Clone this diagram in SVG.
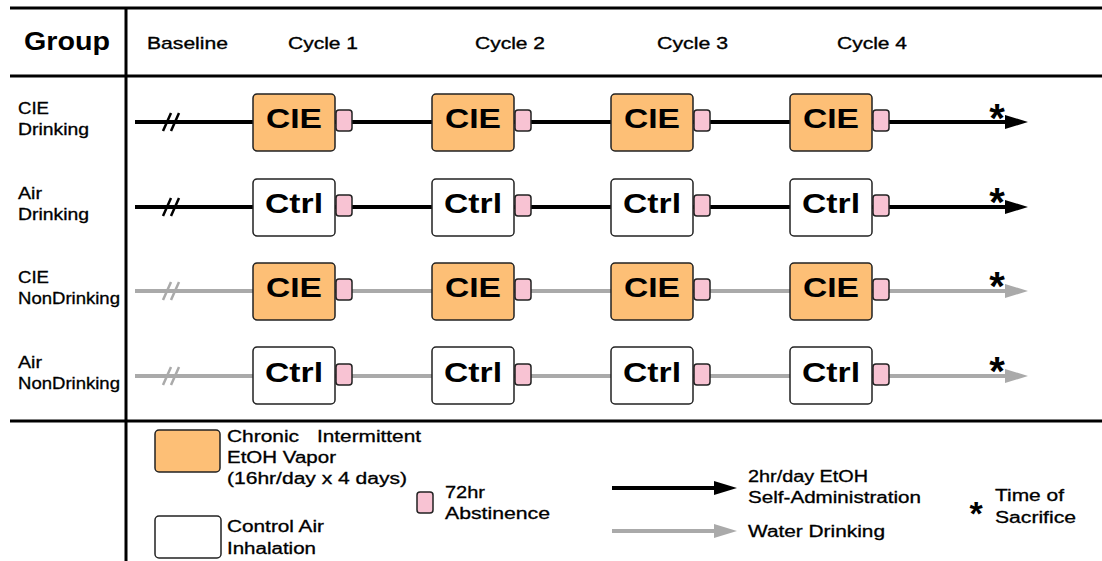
<svg xmlns="http://www.w3.org/2000/svg" width="1102" height="561" viewBox="0 0 1102 561">
  <style>
    text { font-family: "Liberation Sans", Arial, sans-serif; fill: #000; }
    .hdr { font-size: 17px; stroke: #000; stroke-width: 0.35; }
    .grp { font-size: 25px; font-weight: bold; }
    .lbl { font-size: 16px; stroke: #000; stroke-width: 0.3; }
    .box-t { font-size: 27px; font-weight: bold; text-anchor: middle; }
    .frame { stroke: #000; stroke-width: 3; fill: none; }
    .cie { fill: #fdbf76; stroke: #222; stroke-width: 1.5; }
    .ctrl { fill: #fff; stroke: #222; stroke-width: 1.5; }
    .abst { fill: #f8c3d3; stroke: #222; stroke-width: 1.5; }
    .ln-k { stroke: #000; stroke-width: 4; fill: none; }
    .ln-g { stroke: #aaa; stroke-width: 4; fill: none; }
    .brk-k { stroke: #000; stroke-width: 2.5; fill: none; }
    .brk-g { stroke: #aaa; stroke-width: 2.5; fill: none; }
    .star { font-size: 40px; font-weight: bold; text-anchor: middle; }
    .star-s { font-size: 34px; font-weight: bold; text-anchor: middle; }
  </style>
  <defs>
    <marker id="ah-k" viewBox="0 0 23 14" refX="0" refY="7" markerWidth="23" markerHeight="14" markerUnits="userSpaceOnUse" orient="auto">
      <path d="M0,0 L23,7 L0,14 Z" fill="#000"/>
    </marker>
    <marker id="ah-g" viewBox="0 0 23 14" refX="0" refY="7" markerWidth="23" markerHeight="14" markerUnits="userSpaceOnUse" orient="auto">
      <path d="M0,0 L23,7 L0,14 Z" fill="#aaa"/>
    </marker>
  </defs>

  <rect width="1102" height="561" fill="#fff"/>

  <!-- table frame -->
  <g id="frame">
    <line class="frame" x1="10" y1="8" x2="1102" y2="8"/>
    <line class="frame" x1="10" y1="76" x2="1102" y2="76"/>
    <line class="frame" x1="10" y1="421" x2="1102" y2="421"/>
    <line class="frame" x1="126" y1="8" x2="126" y2="561"/>
  </g>

  <!-- header -->
  <g id="header">
    <text class="grp" x="24" y="50" textLength="86" lengthAdjust="spacingAndGlyphs">Group</text>
    <text class="hdr" x="147" y="49" textLength="81" lengthAdjust="spacingAndGlyphs">Baseline</text>
    <text class="hdr" x="288" y="49" textLength="70" lengthAdjust="spacingAndGlyphs">Cycle 1</text>
    <text class="hdr" x="475" y="49" textLength="70" lengthAdjust="spacingAndGlyphs">Cycle 2</text>
    <text class="hdr" x="657" y="49" textLength="71" lengthAdjust="spacingAndGlyphs">Cycle 3</text>
    <text class="hdr" x="837" y="49" textLength="70" lengthAdjust="spacingAndGlyphs">Cycle 4</text>
  </g>

  <!-- group labels -->
  <g id="group-labels">
    <text class="lbl" x="18" y="114" textLength="31" lengthAdjust="spacingAndGlyphs">CIE</text>
    <text class="lbl" x="18" y="135" textLength="71" lengthAdjust="spacingAndGlyphs">Drinking</text>
    <text class="lbl" x="18" y="199" textLength="24" lengthAdjust="spacingAndGlyphs">Air</text>
    <text class="lbl" x="18" y="220" textLength="71" lengthAdjust="spacingAndGlyphs">Drinking</text>
    <text class="lbl" x="18" y="283" textLength="31" lengthAdjust="spacingAndGlyphs">CIE</text>
    <text class="lbl" x="18" y="304" textLength="102" lengthAdjust="spacingAndGlyphs">NonDrinking</text>
    <text class="lbl" x="18" y="368" textLength="24" lengthAdjust="spacingAndGlyphs">Air</text>
    <text class="lbl" x="18" y="389" textLength="102" lengthAdjust="spacingAndGlyphs">NonDrinking</text>
  </g>

  <!-- timelines -->
  <g id="connectors">
    <line class="ln-k" x1="135" y1="122" x2="1005" y2="122" marker-end="url(#ah-k)"/>
    <path class="brk-k" d="M163,131 L171,113 M171,131 L179,113"/>
    <line class="ln-k" x1="135" y1="207" x2="1005" y2="207" marker-end="url(#ah-k)"/>
    <path class="brk-k" d="M163,216 L171,198 M171,216 L179,198"/>
    <line class="ln-g" x1="135" y1="291" x2="1005" y2="291" marker-end="url(#ah-g)"/>
    <path class="brk-g" d="M163,300 L171,282 M171,300 L179,282"/>
    <line class="ln-g" x1="135" y1="376" x2="1005" y2="376" marker-end="url(#ah-g)"/>
    <path class="brk-g" d="M163,385 L171,367 M171,385 L179,367"/>
  </g>

  <!-- row 1: CIE drinking -->
  <g id="cie-drinking-c1"><rect class="cie" x="253" y="94" width="82" height="57" rx="4"/><text class="box-t" x="294" y="128" textLength="56" lengthAdjust="spacingAndGlyphs">CIE</text><rect class="abst" x="336" y="110" width="16" height="21" rx="3"/></g>
  <g id="cie-drinking-c2"><rect class="cie" x="432" y="94" width="82" height="57" rx="4"/><text class="box-t" x="473" y="128" textLength="56" lengthAdjust="spacingAndGlyphs">CIE</text><rect class="abst" x="515" y="110" width="16" height="21" rx="3"/></g>
  <g id="cie-drinking-c3"><rect class="cie" x="611" y="94" width="82" height="57" rx="4"/><text class="box-t" x="652" y="128" textLength="56" lengthAdjust="spacingAndGlyphs">CIE</text><rect class="abst" x="694" y="110" width="16" height="21" rx="3"/></g>
  <g id="cie-drinking-c4"><rect class="cie" x="790" y="94" width="82" height="57" rx="4"/><text class="box-t" x="831" y="128" textLength="56" lengthAdjust="spacingAndGlyphs">CIE</text><rect class="abst" x="873" y="110" width="16" height="21" rx="3"/></g>

  <!-- row 2: air drinking -->
  <g id="air-drinking-c1"><rect class="ctrl" x="253" y="179" width="82" height="57" rx="4"/><text class="box-t" x="294" y="213" textLength="58" lengthAdjust="spacingAndGlyphs">Ctrl</text><rect class="abst" x="336" y="195" width="16" height="21" rx="3"/></g>
  <g id="air-drinking-c2"><rect class="ctrl" x="432" y="179" width="82" height="57" rx="4"/><text class="box-t" x="473" y="213" textLength="58" lengthAdjust="spacingAndGlyphs">Ctrl</text><rect class="abst" x="515" y="195" width="16" height="21" rx="3"/></g>
  <g id="air-drinking-c3"><rect class="ctrl" x="611" y="179" width="82" height="57" rx="4"/><text class="box-t" x="652" y="213" textLength="58" lengthAdjust="spacingAndGlyphs">Ctrl</text><rect class="abst" x="694" y="195" width="16" height="21" rx="3"/></g>
  <g id="air-drinking-c4"><rect class="ctrl" x="790" y="179" width="82" height="57" rx="4"/><text class="box-t" x="831" y="213" textLength="58" lengthAdjust="spacingAndGlyphs">Ctrl</text><rect class="abst" x="873" y="195" width="16" height="21" rx="3"/></g>

  <!-- row 3: CIE non-drinking -->
  <g id="cie-nondrinking-c1"><rect class="cie" x="253" y="263" width="82" height="57" rx="4"/><text class="box-t" x="294" y="297" textLength="56" lengthAdjust="spacingAndGlyphs">CIE</text><rect class="abst" x="336" y="279" width="16" height="21" rx="3"/></g>
  <g id="cie-nondrinking-c2"><rect class="cie" x="432" y="263" width="82" height="57" rx="4"/><text class="box-t" x="473" y="297" textLength="56" lengthAdjust="spacingAndGlyphs">CIE</text><rect class="abst" x="515" y="279" width="16" height="21" rx="3"/></g>
  <g id="cie-nondrinking-c3"><rect class="cie" x="611" y="263" width="82" height="57" rx="4"/><text class="box-t" x="652" y="297" textLength="56" lengthAdjust="spacingAndGlyphs">CIE</text><rect class="abst" x="694" y="279" width="16" height="21" rx="3"/></g>
  <g id="cie-nondrinking-c4"><rect class="cie" x="790" y="263" width="82" height="57" rx="4"/><text class="box-t" x="831" y="297" textLength="56" lengthAdjust="spacingAndGlyphs">CIE</text><rect class="abst" x="873" y="279" width="16" height="21" rx="3"/></g>

  <!-- row 4: air non-drinking -->
  <g id="air-nondrinking-c1"><rect class="ctrl" x="253" y="347" width="82" height="57" rx="4"/><text class="box-t" x="294" y="382" textLength="58" lengthAdjust="spacingAndGlyphs">Ctrl</text><rect class="abst" x="336" y="364" width="16" height="21" rx="3"/></g>
  <g id="air-nondrinking-c2"><rect class="ctrl" x="432" y="347" width="82" height="57" rx="4"/><text class="box-t" x="473" y="382" textLength="58" lengthAdjust="spacingAndGlyphs">Ctrl</text><rect class="abst" x="515" y="364" width="16" height="21" rx="3"/></g>
  <g id="air-nondrinking-c3"><rect class="ctrl" x="611" y="347" width="82" height="57" rx="4"/><text class="box-t" x="652" y="382" textLength="58" lengthAdjust="spacingAndGlyphs">Ctrl</text><rect class="abst" x="694" y="364" width="16" height="21" rx="3"/></g>
  <g id="air-nondrinking-c4"><rect class="ctrl" x="790" y="347" width="82" height="57" rx="4"/><text class="box-t" x="831" y="382" textLength="58" lengthAdjust="spacingAndGlyphs">Ctrl</text><rect class="abst" x="873" y="364" width="16" height="21" rx="3"/></g>

  <!-- sacrifice markers -->
  <g id="sacrifice-marks">
    <text class="star" x="997" y="132">*</text>
    <text class="star" x="997" y="216">*</text>
    <text class="star" x="997" y="300">*</text>
    <text class="star" x="997" y="385">*</text>
  </g>

  <!-- legend -->
  <g id="legend-cie">
    <rect class="cie" x="155" y="430" width="65" height="42" rx="4"/>
    <text class="lbl" x="227" y="442" textLength="72" lengthAdjust="spacingAndGlyphs">Chronic</text>
    <text class="lbl" x="317" y="442" textLength="104" lengthAdjust="spacingAndGlyphs">Intermittent</text>
    <text class="lbl" x="227" y="463" textLength="109" lengthAdjust="spacingAndGlyphs">EtOH Vapor</text>
    <text class="lbl" x="227" y="484" textLength="180" lengthAdjust="spacingAndGlyphs">(16hr/day x 4 days)</text>
  </g>
  <g id="legend-ctrl">
    <rect class="ctrl" x="155" y="516" width="66" height="42" rx="4"/>
    <text class="lbl" x="227" y="532" textLength="97" lengthAdjust="spacingAndGlyphs">Control Air</text>
    <text class="lbl" x="227" y="554" textLength="89" lengthAdjust="spacingAndGlyphs">Inhalation</text>
  </g>
  <g id="legend-abstinence">
    <rect class="abst" x="417" y="492" width="16" height="21" rx="3"/>
    <text class="lbl" x="445" y="498" textLength="40" lengthAdjust="spacingAndGlyphs">72hr</text>
    <text class="lbl" x="445" y="519" textLength="105" lengthAdjust="spacingAndGlyphs">Abstinence</text>
  </g>
  <g id="legend-etoh">
    <line class="ln-k" x1="612" y1="488" x2="714" y2="488" marker-end="url(#ah-k)"/>
    <text class="lbl" x="748" y="482" textLength="120" lengthAdjust="spacingAndGlyphs">2hr/day EtOH</text>
    <text class="lbl" x="748" y="503" textLength="173" lengthAdjust="spacingAndGlyphs">Self-Administration</text>
  </g>
  <g id="legend-water">
    <line class="ln-g" x1="612" y1="531" x2="714" y2="531" marker-end="url(#ah-g)"/>
    <text class="lbl" x="748" y="537" textLength="137" lengthAdjust="spacingAndGlyphs">Water Drinking</text>
  </g>
  <g id="legend-sacrifice">
    <text class="star-s" x="976" y="525">*</text>
    <text class="lbl" x="995" y="501" textLength="69" lengthAdjust="spacingAndGlyphs">Time of</text>
    <text class="lbl" x="995" y="523" textLength="81" lengthAdjust="spacingAndGlyphs">Sacrifice</text>
  </g>
</svg>
